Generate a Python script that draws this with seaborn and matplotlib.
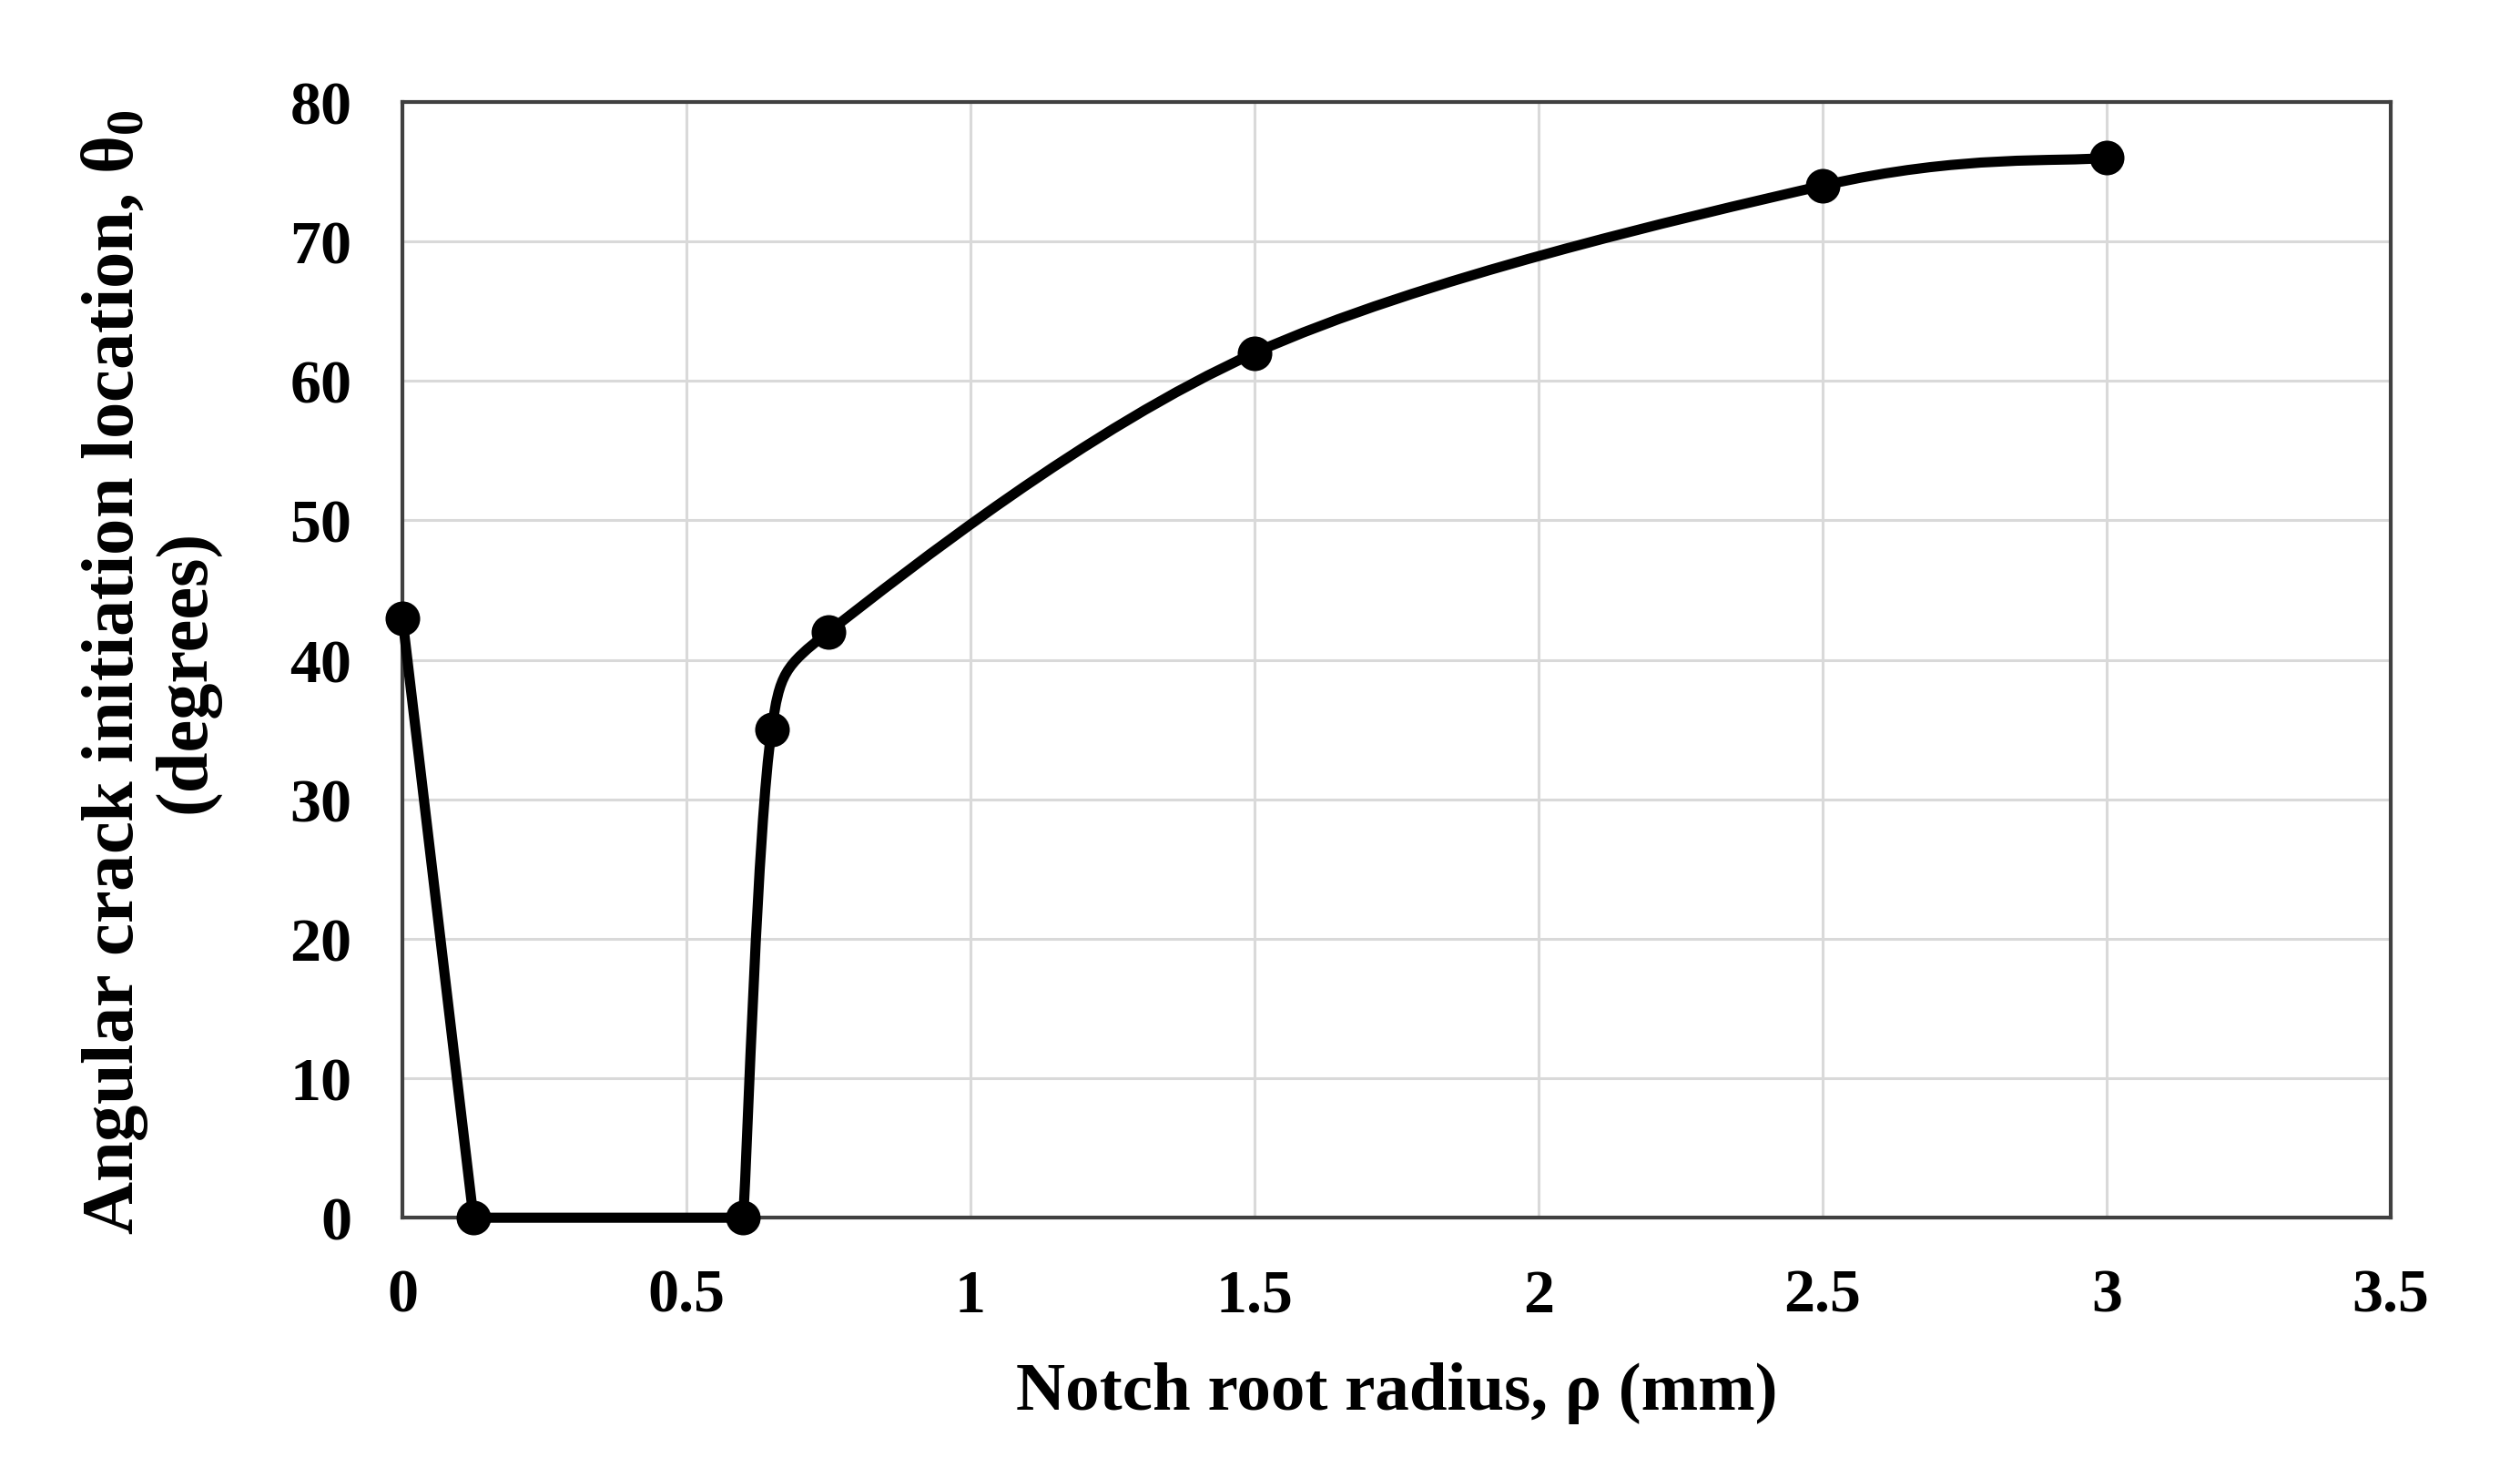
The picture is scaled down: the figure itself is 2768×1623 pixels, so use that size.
import numpy as np
import pandas as pd
import matplotlib.pyplot as plt
import seaborn as sns
from matplotlib.path import Path
from matplotlib.patches import PathPatch

# Data
rho = [0, 0.125, 0.6, 0.65, 0.75, 1.5, 2.5, 3]
theta = [43, 0, 0, 35, 42, 62, 74, 76]
# first three points joined with straight segments, rest with a smoothed line
n_straight = 3

x_ticks = [0, 0.5, 1, 1.5, 2, 2.5, 3, 3.5]
x_tick_labels = ['0', '0.5', '1', '1.5', '2', '2.5', '3', '3.5']
y_ticks = [0, 10, 20, 30, 40, 50, 60, 70, 80]

df = pd.DataFrame({'rho': rho, 'theta': theta})

sns.set_style('white')
plt.rcParams['font.family'] = ['Liberation Serif', 'DejaVu Serif']
plt.rcParams['font.weight'] = 'bold'
plt.rcParams['mathtext.fontset'] = 'custom'
plt.rcParams['mathtext.rm'] = 'Liberation Serif:bold'
plt.rcParams['mathtext.bf'] = 'Liberation Serif:bold'
plt.rcParams['mathtext.default'] = 'bf'
plt.rcParams['text.color'] = 'black'
plt.rcParams['axes.labelcolor'] = 'black'
plt.rcParams['xtick.color'] = 'black'
plt.rcParams['ytick.color'] = 'black'


def smooth_path(ax, xs, ys):
    # cubic Bezier through the points, handles like a spreadsheet "smoothed line"
    pts = ax.transData.transform(np.column_stack([xs, ys]))
    n = len(pts)
    verts = [pts[0]]
    codes = [Path.MOVETO]
    for i in range(n - 1):
        p0 = pts[max(i - 1, 0)]
        p1 = pts[i]
        p2 = pts[i + 1]
        p3 = pts[min(i + 2, n - 1)]
        half = np.hypot(*(p2 - p1)) / 2
        h1 = (p2 - p0) / 6
        h2 = (p3 - p1) / 6
        if np.hypot(*h1) > half:
            h1 = h1 * half / np.hypot(*h1)
        if np.hypot(*h2) > half:
            h2 = h2 * half / np.hypot(*h2)
        verts += [p1 + h1, p2 - h2, p2]
        codes += [Path.CURVE4] * 3
    verts = ax.transData.inverted().transform(np.array(verts))
    return Path(verts, codes)


fig = plt.figure(figsize=(27.68, 16.24), dpi=100)
ax = fig.add_axes([0.1597, 0.176, 0.7889, 0.7544])

ax.set_xlim(0, 3.5)
ax.set_ylim(0, 80)

# straight part
sns.lineplot(data=df.iloc[:n_straight], x='rho', y='theta', sort=False,
             color='black', linewidth=8, ax=ax, zorder=4, clip_on=False)

# smoothed part
path = smooth_path(ax, df['rho'][n_straight - 1:], df['theta'][n_straight - 1:])
ax.add_patch(PathPatch(path, facecolor='none', edgecolor='black', linewidth=8,
                       capstyle='round', joinstyle='round', zorder=4, clip_on=False))

sns.scatterplot(data=df, x='rho', y='theta', color='black', s=750,
                linewidth=0, ax=ax, zorder=5, clip_on=False)

ax.set_xticks(x_ticks)
ax.set_xticklabels(x_tick_labels)
ax.set_yticks(y_ticks)
ax.tick_params(axis='both', length=0, labelsize=49, pad=40, colors='black')
for lab in ax.get_xticklabels() + ax.get_yticklabels():
    lab.set_fontweight('bold')

ax.grid(True, color='#d9d9d9', linewidth=2.2)
ax.set_axisbelow(True)
for sp in ax.spines.values():
    sp.set_color('#404040')
    sp.set_linewidth(3)

ax.set_xlabel('Notch root radius, ρ (mm)', fontsize=54, fontweight='bold')
ax.set_ylabel('Angular crack initiation location, θ$_0$\n(degrees)',
              fontsize=58, fontweight='bold', linespacing=1.05)
ax.xaxis.set_label_coords(0.5, -0.129)
ax.yaxis.set_label_coords(-0.092, 0.49)

plt.savefig('out.png', dpi=100)
